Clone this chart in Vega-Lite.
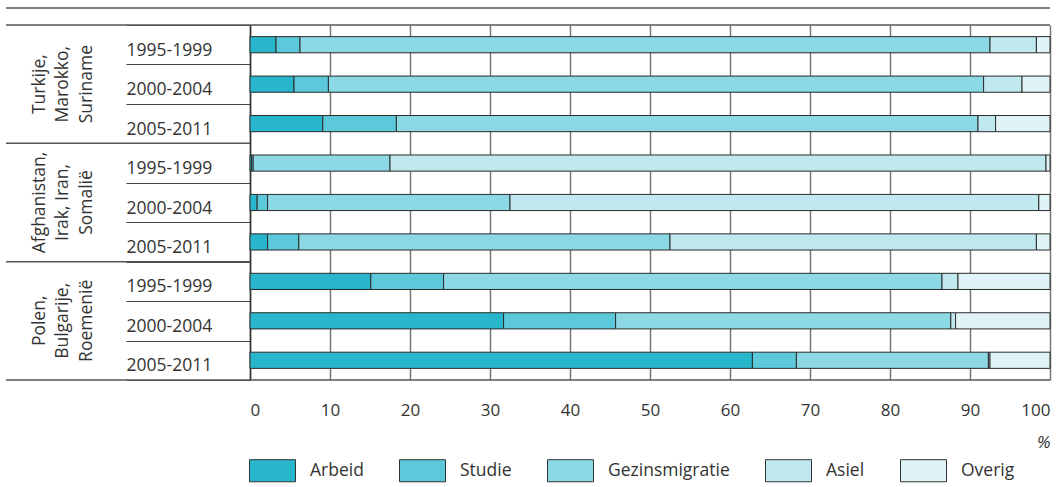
{
  "$schema": "https://vega.github.io/schema/vega-lite/v6.json",
  "autosize": {"type": "none"},
  "padding": {"left": 250, "top": 25, "right": 14, "bottom": 107},
  "width": 800,
  "height": 355,
  "config": {
    "font": "Open Sans",
    "view": {"stroke": null},
    "text": {"font": "Open Sans"}
  },
  "datasets": {
    "bars": [
      {"row": "T|1995-1999", "cat": "Arbeid", "o": 1, "v": 3.25},
      {"row": "T|1995-1999", "cat": "Studie", "o": 2, "v": 3.0},
      {"row": "T|1995-1999", "cat": "Gezinsmigratie", "o": 3, "v": 86.25},
      {"row": "T|1995-1999", "cat": "Asiel", "o": 4, "v": 5.8},
      {"row": "T|1995-1999", "cat": "Overig", "o": 5, "v": 1.7},
      {"row": "T|2000-2004", "cat": "Arbeid", "o": 1, "v": 5.5},
      {"row": "T|2000-2004", "cat": "Studie", "o": 2, "v": 4.3},
      {"row": "T|2000-2004", "cat": "Gezinsmigratie", "o": 3, "v": 81.9},
      {"row": "T|2000-2004", "cat": "Asiel", "o": 4, "v": 4.8},
      {"row": "T|2000-2004", "cat": "Overig", "o": 5, "v": 3.5},
      {"row": "T|2005-2011", "cat": "Arbeid", "o": 1, "v": 9.1},
      {"row": "T|2005-2011", "cat": "Studie", "o": 2, "v": 9.2},
      {"row": "T|2005-2011", "cat": "Gezinsmigratie", "o": 3, "v": 72.7},
      {"row": "T|2005-2011", "cat": "Asiel", "o": 4, "v": 2.2},
      {"row": "T|2005-2011", "cat": "Overig", "o": 5, "v": 6.8},
      {"row": "A|1995-1999", "cat": "Arbeid", "o": 1, "v": 0.2},
      {"row": "A|1995-1999", "cat": "Studie", "o": 2, "v": 0.2},
      {"row": "A|1995-1999", "cat": "Gezinsmigratie", "o": 3, "v": 17.1},
      {"row": "A|1995-1999", "cat": "Asiel", "o": 4, "v": 82.0},
      {"row": "A|1995-1999", "cat": "Overig", "o": 5, "v": 0.5},
      {"row": "A|2000-2004", "cat": "Arbeid", "o": 1, "v": 0.9},
      {"row": "A|2000-2004", "cat": "Studie", "o": 2, "v": 1.3},
      {"row": "A|2000-2004", "cat": "Gezinsmigratie", "o": 3, "v": 30.3},
      {"row": "A|2000-2004", "cat": "Asiel", "o": 4, "v": 66.1},
      {"row": "A|2000-2004", "cat": "Overig", "o": 5, "v": 1.4},
      {"row": "A|2005-2011", "cat": "Arbeid", "o": 1, "v": 2.2},
      {"row": "A|2005-2011", "cat": "Studie", "o": 2, "v": 3.9},
      {"row": "A|2005-2011", "cat": "Gezinsmigratie", "o": 3, "v": 46.4},
      {"row": "A|2005-2011", "cat": "Asiel", "o": 4, "v": 45.8},
      {"row": "A|2005-2011", "cat": "Overig", "o": 5, "v": 1.7},
      {"row": "P|1995-1999", "cat": "Arbeid", "o": 1, "v": 15.1},
      {"row": "P|1995-1999", "cat": "Studie", "o": 2, "v": 9.1},
      {"row": "P|1995-1999", "cat": "Gezinsmigratie", "o": 3, "v": 62.3},
      {"row": "P|1995-1999", "cat": "Asiel", "o": 4, "v": 2.0},
      {"row": "P|1995-1999", "cat": "Overig", "o": 5, "v": 11.5},
      {"row": "P|2000-2004", "cat": "Arbeid", "o": 1, "v": 31.7},
      {"row": "P|2000-2004", "cat": "Studie", "o": 2, "v": 14.0},
      {"row": "P|2000-2004", "cat": "Gezinsmigratie", "o": 3, "v": 41.9},
      {"row": "P|2000-2004", "cat": "Asiel", "o": 4, "v": 0.6},
      {"row": "P|2000-2004", "cat": "Overig", "o": 5, "v": 11.8},
      {"row": "P|2005-2011", "cat": "Arbeid", "o": 1, "v": 62.8},
      {"row": "P|2005-2011", "cat": "Studie", "o": 2, "v": 5.5},
      {"row": "P|2005-2011", "cat": "Gezinsmigratie", "o": 3, "v": 24.0},
      {"row": "P|2005-2011", "cat": "Asiel", "o": 4, "v": 0.2},
      {"row": "P|2005-2011", "cat": "Overig", "o": 5, "v": 7.5}
    ],
    "groups": [
      {"row": "T|2000-2004", "label": ["Turkije,", "Marokko,", "Suriname"], "pos": -26.3},
      {"row": "A|2000-2004", "label": ["Afghanistan,", "Irak, Iran,", "Somalië"], "pos": -26.3},
      {"row": "P|2000-2004", "label": ["Polen,", "Bulgarije,", "Roemenië"], "pos": -26.3}
    ],
    "topEdges": [
      {"row": "T|1995-1999", "a": -30.5, "b": 100},
      {"row": "A|1995-1999", "a": -30.5, "b": 0},
      {"row": "P|1995-1999", "a": -30.5, "b": 0}
    ],
    "bottomEdges": [
      {"row": "P|2005-2011", "a": -30.5, "b": 100}
    ],
    "frameTop": [
      {"row": "T|1995-1999", "a": -30.5, "b": 100}
    ]
  },
  "layer": [
    {
      "data": {"name": "bars"},
      "mark": {"type": "bar", "height": {"band": 0.41}, "stroke": "#2a2a2a", "strokeWidth": 1},
      "encoding": {
        "y": {
          "field": "row", "type": "nominal", "title": null,
          "scale": {
            "domain": ["T|1995-1999", "T|2000-2004", "T|2005-2011", "A|1995-1999", "A|2000-2004", "A|2005-2011", "P|1995-1999", "P|2000-2004", "P|2005-2011"],
            "paddingInner": 0, "paddingOuter": 0
          },
          "axis": {
            "labelExpr": "split(datum.label, '|')[1]",
            "labelAlign": "left",
            "labelPadding": 0,
            "labelOffset": 5.5,
            "labelFontSize": 17.5,
            "labelColor": "#333",
            "labelFont": "Open Sans",
            "ticks": true,
            "tickBand": "extent",
            "tickSize": 124,
            "tickColor": "#444",
            "tickWidth": 1.2,
            "domain": true,
            "domainColor": "#333",
            "domainWidth": 1.5,
            "grid": false,
            "labelBound": false
          }
        },
        "x": {
          "field": "v", "type": "quantitative", "stack": "zero",
          "scale": {"domain": [0, 100], "nice": false},
          "title": "%",
          "axis": {
            "values": [0, 10, 20, 30, 40, 50, 60, 70, 80, 90, 100],
            "ticks": false,
            "domain": false,
            "grid": true,
            "gridColor": "#777",
            "gridWidth": 1.5,
            "labelPadding": 22,
            "labelFontSize": 17,
            "labelColor": "#333",
            "labelFont": "Open Sans",
            "titleAnchor": "end",
            "titleAlign": "right",
            "titleFontSize": 17,
            "titleFontWeight": "normal",
            "titleFontStyle": "italic",
            "titleColor": "#333",
            "titleFont": "Open Sans",
            "titlePadding": 16
          }
        },
        "order": {"field": "o"},
        "fill": {
          "field": "cat", "type": "nominal", "title": null,
          "scale": {
            "domain": ["Arbeid", "Studie", "Gezinsmigratie", "Asiel", "Overig"],
            "range": ["#27b6cb", "#5bc9d9", "#8cd9e5", "#c0e9ef", "#e0f4f7"]
          },
          "legend": {
            "orient": "none",
            "direction": "horizontal",
            "legendX": -1,
            "legendY": 422,
            "symbolType": "M-1,-0.48H1V0.48H-1Z",
            "symbolSize": 2116,
            "symbolStrokeColor": "#333",
            "symbolStrokeWidth": 1,
            "symbolOpacity": 1,
            "labelFontSize": 17.5,
            "labelColor": "#333",
            "labelFont": "Open Sans",
            "labelOffset": 14,
            "columnPadding": 33,
            "labelLimit": 300
          }
        }
      }
    },
    {
      "data": {"name": "groups"},
      "mark": {"type": "text", "angle": 270, "align": "center", "baseline": "middle", "fontSize": 17.5, "lineHeight": 23.5, "color": "#333", "font": "Open Sans"},
      "encoding": {
        "y": {"field": "row", "type": "nominal"},
        "x": {"field": "pos", "type": "quantitative"},
        "text": {"field": "label"}
      }
    },
    {
      "data": {"name": "topEdges"},
      "mark": {"type": "rule", "color": "#555", "strokeWidth": 1.5},
      "encoding": {
        "y": {"field": "row", "type": "nominal", "bandPosition": 0},
        "x": {"field": "a", "type": "quantitative"},
        "x2": {"field": "b"}
      }
    },
    {
      "data": {"name": "bottomEdges"},
      "mark": {"type": "rule", "color": "#555", "strokeWidth": 1.5},
      "encoding": {
        "y": {"field": "row", "type": "nominal", "bandPosition": 1},
        "x": {"field": "a", "type": "quantitative"},
        "x2": {"field": "b"}
      }
    },
    {
      "data": {"name": "frameTop"},
      "mark": {"type": "rule", "color": "#555", "strokeWidth": 1.5, "yOffset": -17},
      "encoding": {
        "y": {"field": "row", "type": "nominal", "bandPosition": 0},
        "x": {"field": "a", "type": "quantitative"},
        "x2": {"field": "b"}
      }
    }
  ]
}
